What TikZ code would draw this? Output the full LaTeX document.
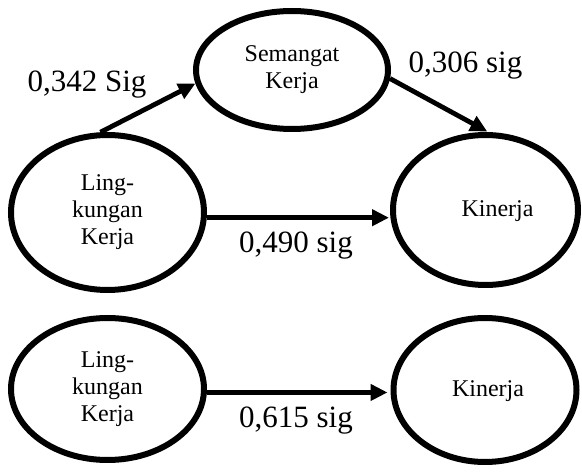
\documentclass[tikz,border=0pt]{standalone}
\usepackage{fontspec}
\setmainfont{Liberation Serif}
\usetikzlibrary{shapes.geometric,arrows.meta}

\tikzset{
  nodefont/.style={font=\fontsize{24}{27}\selectfont},
  oval/.style={draw, ellipse, line width=6pt, inner sep=0pt, align=center, nodefont},
  inlabel/.style={nodefont, inner sep=0pt},
  arr/.style={line width=4.8pt, -{Triangle[length=17pt,width=16pt]}},
  coef/.style={anchor=base, inner sep=0pt, font=\fontsize{31}{36}\selectfont}
}

\begin{document}
\begin{tikzpicture}[x=1pt, y=-1pt]
  \useasboundingbox (0,0) rectangle (582,473);

  % upper model: mediation through Semangat Kerja
  \node[oval, minimum width=192pt, minimum height=118pt] (s) at (292,70) {Semangat\\Kerja};
  \node[oval, minimum width=193pt, minimum height=155pt] (l1) at (107.5,212.5) {Ling-\\kungan\\Kerja};
  \node[oval, minimum width=185pt, minimum height=150pt,
        label={[inlabel, xshift=12pt, yshift=-1pt]center:Kinerja}] (k1) at (485.5,210) {};

  \draw[arr] (l1.95) -- (s.188);
  \draw[arr, shorten >=1pt] (s.-5) -- (k1.88);
  \draw[arr, shorten >=1pt] (l1.-3) -- (l1.-3 -| k1.west);

  \node[coef] (c1) at (87,92) {0,342 Sig};
  \node[coef] (c2) at (465.5,73) {0,306 sig};
  \node[coef] (c3) at (296,253) {0,490 sig};

  % lower model: direct effect only
  \node[oval, minimum width=193pt, minimum height=142pt] (l2) at (107.5,389) {Ling-\\kungan\\Kerja};
  \node[oval, minimum width=183pt, minimum height=144pt,
        label={[inlabel, xshift=3pt, yshift=-1pt]center:Kinerja}] (k2) at (485,390) {};

  \draw[arr, shorten >=3pt] (l2.-2) -- (l2.-2 -| k2.west);

  \node[coef] (c4) at (296,428) {0,615 sig};
\end{tikzpicture}
\end{document}
